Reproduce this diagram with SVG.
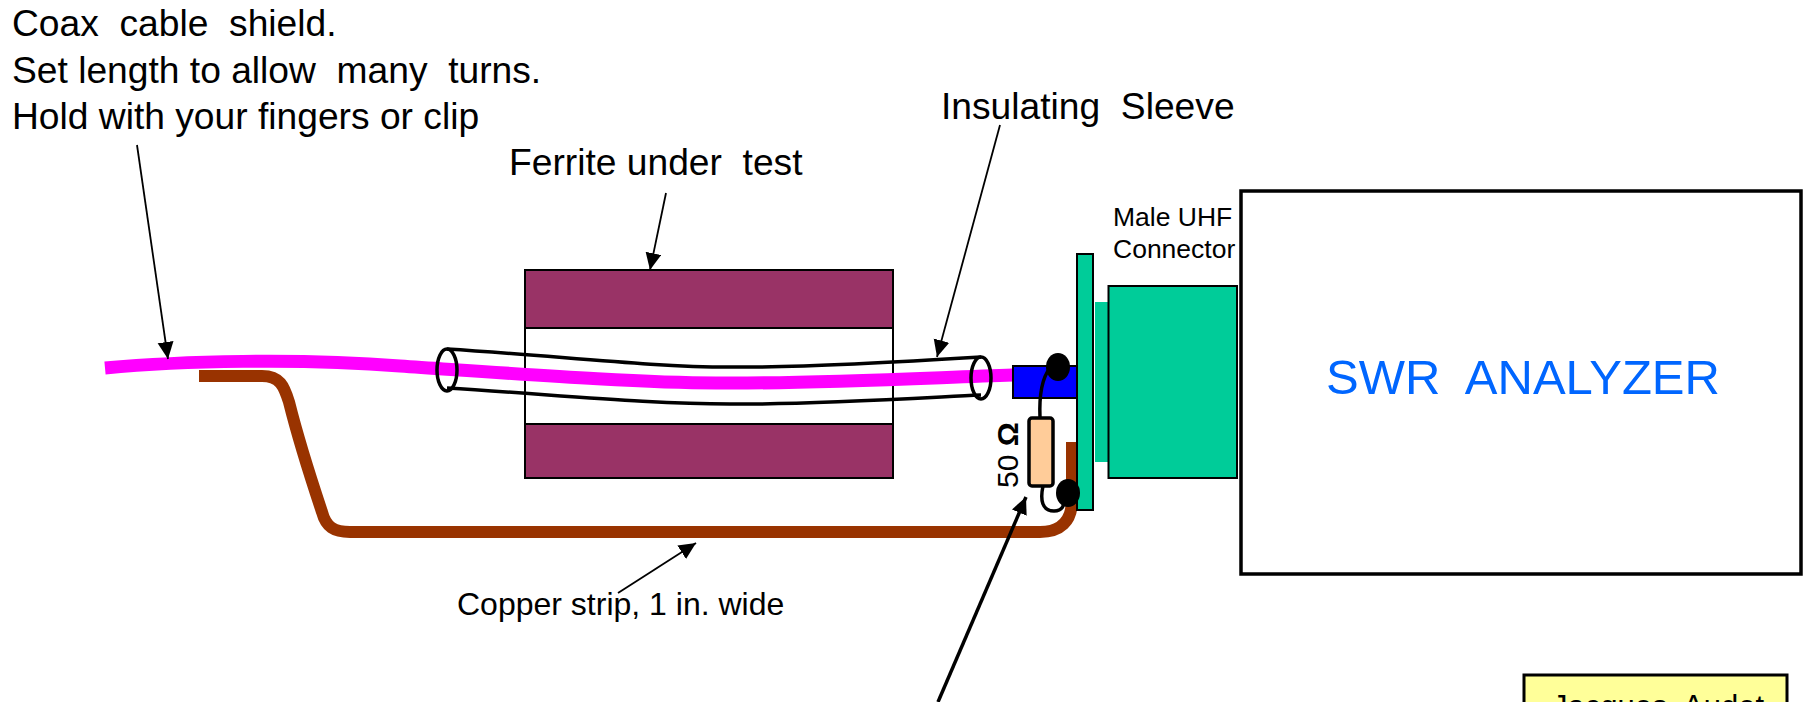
<svg xmlns="http://www.w3.org/2000/svg" width="1803" height="702" viewBox="0 0 1803 702">
<style>
text{font-family:"Liberation Sans",Arial,sans-serif;fill:#000}
.t37{font-size:37.200px}
.t32{font-size:32px}
.t26{font-size:26.500px}
.ferrite{fill:#993366;stroke:#000;stroke-width:2}
.green{fill:#00CC99;stroke:#000;stroke-width:2}
.lead{fill:none;stroke:#000;stroke-width:3.5}
.arrow{fill:none;stroke:#000;stroke-width:1.8;marker-end:url(#ah)}
</style>
<defs>
<marker id="ah" markerUnits="userSpaceOnUse" markerWidth="20" markerHeight="18" refX="17" refY="8" orient="auto"><path d="M0 0L17 8L0 16z" fill="#000"/></marker>
</defs>
<rect width="1803" height="702" fill="#fff"/>
<g id="ferrite">
<rect x="525" y="327" width="368" height="97" fill="#fff" stroke="#000" stroke-width="2"/>
<rect class="ferrite" x="525" y="270" width="368" height="58"/>
<rect class="ferrite" x="525" y="424" width="368" height="54"/>
</g>
<g id="copper-strip">
<path d="M199 376H262C280 376 284 386 289 402C296 430 308 470 322 512C326 527 334 532 350 532H1040C1060 532 1072 522 1072 500V442" fill="none" stroke="#993300" stroke-width="12"/>
</g>
<g id="coax-shield">
<path d="M105 368C180 361 300 358 400 366C520 374 640 383 716 383C800 384 900 379 1013 375" fill="none" stroke="#FF00FF" stroke-width="13"/>
</g>
<g id="sleeve">
<path class="lead" d="M447 349C560 356 650 367 730 367C800 368 900 362 981 357"/>
<path class="lead" d="M447 388C560 395 650 404 730 404C800 405 900 399 981 395"/>
<ellipse class="lead" cx="447" cy="370" rx="10" ry="21"/>
<ellipse class="lead" cx="981" cy="378" rx="10" ry="21"/>
</g>
<g id="center-conductor">
<rect x="1013" y="366" width="64" height="32" fill="#0000FF" stroke="#000" stroke-width="2"/>
</g>
<g id="uhf-connector">
<rect class="green" x="1077" y="254" width="16" height="256"/>
<rect x="1095" y="302" width="14" height="160" fill="#00CC99"/>
<rect class="green" x="1108.500" y="286" width="128.500" height="192"/>
</g>
<g id="resistor">
<path class="lead" d="M1040 418C1039 395 1042 378 1050 368"/>
<path class="lead" d="M1043 486C1040 500 1042 511 1054 511C1063 511 1064 505 1065 498"/>
<rect x="1029" y="418" width="24" height="68" rx="3" fill="#FFCC99" stroke="#000" stroke-width="3.500"/>
<ellipse cx="1058" cy="367" rx="12" ry="14"/>
<ellipse cx="1068" cy="493" rx="12" ry="14"/>
<text transform="translate(1018 488) rotate(-90)" font-size="30">50 <tspan font-weight="bold">Ω</tspan></text>
</g>
<g id="analyzer">
<path d="M1241 366A16 16 0 0 1 1241 398z" fill="#3D3D0A" stroke="#000" stroke-width="1.500"/>
<rect x="1241" y="191" width="560" height="383" fill="#fff" stroke="#000" stroke-width="3.500"/>
<text x="1326" y="394" font-size="49" style="fill:#0066FF" xml:space="preserve">SWR  ANALYZER</text>
</g>
<g id="connectors">
<path class="arrow" d="M137 145L168 359"/>
<path class="arrow" d="M666 193L650 270"/>
<path class="arrow" d="M1000 125L937 357"/>
<path class="arrow" d="M618 593L696 543"/>
<path class="arrow" style="stroke-width:3.500" d="M938 702L1026 497"/>
</g>
<g id="labels">
<text class="t37" x="12" y="36" xml:space="preserve">Coax  cable  shield.</text>
<text class="t37" x="12" y="83" xml:space="preserve">Set length to allow  many  turns.</text>
<text class="t37" x="12" y="129">Hold with your fingers or clip</text>
<text class="t37" x="509" y="175" xml:space="preserve">Ferrite under  test</text>
<text class="t37" x="941" y="119" xml:space="preserve">Insulating  Sleeve</text>
<text class="t26" x="1113" y="226">Male UHF</text>
<text class="t26" x="1113" y="258">Connector</text>
<text class="t32" x="457" y="615">Copper strip, 1 in. wide</text>
</g>
<g id="credit">
<rect x="1524" y="675" width="263" height="60" fill="#FFFF99" stroke="#000" stroke-width="3"/>
<text x="1552" y="717" font-size="31" xml:space="preserve">Jacques  Audet</text>
</g>
</svg>
